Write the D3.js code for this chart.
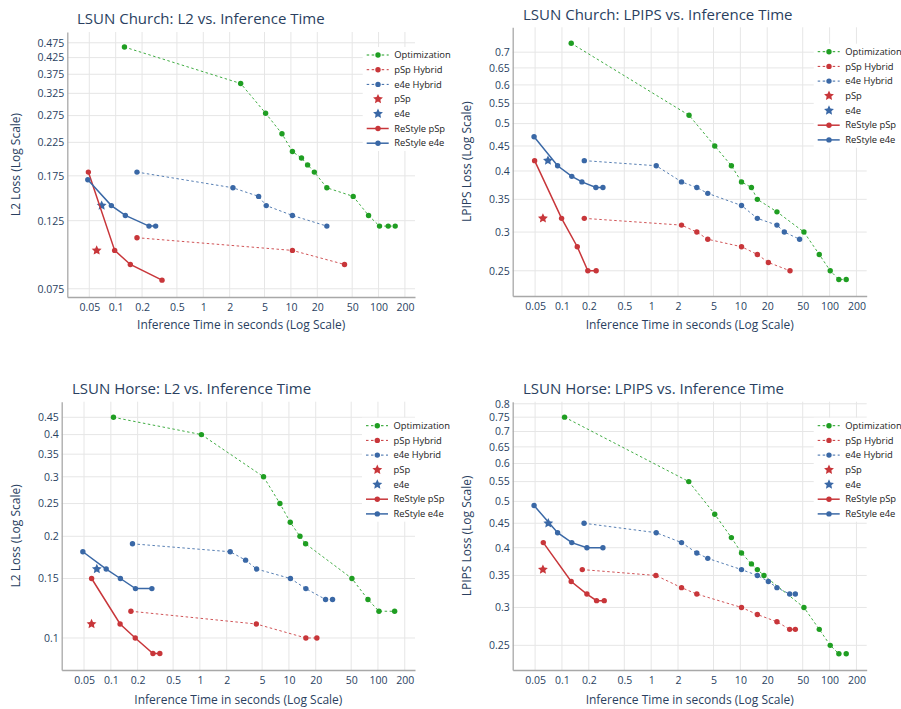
<!DOCTYPE html>
<html>
<head>
<meta charset="utf-8">
<script src="https://cdn.jsdelivr.net/npm/d3@7"></script>
<style>
  body { margin: 0; background: #fff; }
  text { font-family: "Open Sans", sans-serif; }
</style>
</head>
<body>
<div id="main"></div>
<script>
// series names, in drawing order
var seriesNames = ["Optimization", "pSp Hybrid", "e4e Hybrid", "pSp", "e4e", "ReStyle pSp", "ReStyle e4e"];

var xTicks = [0.05, 0.1, 0.2, 0.5, 1, 2, 5, 10, 20, 50, 100, 200];
var yTicksChurchL2 = [0.075, 0.125, 0.175, 0.225, 0.275, 0.325, 0.375, 0.425, 0.475];
var yTicksChurchLpips = [0.25, 0.3, 0.35, 0.4, 0.45, 0.5, 0.55, 0.6, 0.65, 0.7];
var yTicksHorseL2 = [0.1, 0.15, 0.2, 0.25, 0.3, 0.35, 0.4, 0.45];
var yTicksHorseLpips = [0.25, 0.3, 0.35, 0.4, 0.45, 0.5, 0.55, 0.6, 0.65, 0.7, 0.75, 0.8];

// LSUN Church, L2  ([seconds, loss])
var churchL2Opt = [[0.126,0.46],[2.67,0.35],[5.14,0.28],[7.9,0.24],[10.4,0.21],[13.2,0.20],[15.5,0.19],[18.5,0.18],[25.7,0.16],[51.4,0.15],[76.9,0.13],[102.6,0.12],[128.9,0.12],[154.9,0.12]];
var churchL2PspHyb = [[0.175,0.11],[10.4,0.10],[40.9,0.09]];
var churchL2E4eHyb = [[0.175,0.18],[2.18,0.16],[4.28,0.15],[5.23,0.14],[10.4,0.13],[25.7,0.12]];
var churchL2Psp = [[0.0607,0.10]];
var churchL2E4e = [[0.0692,0.14]];
var churchL2ResPsp = [[0.0488,0.18],[0.0974,0.10],[0.147,0.09],[0.338,0.08]];
var churchL2ResE4e = [[0.0481,0.17],[0.0893,0.14],[0.129,0.13],[0.240,0.12],[0.286,0.12]];

// LSUN Church, LPIPS
var churchLpOpt = [[0.127,0.73],[2.66,0.52],[5.16,0.45],[7.93,0.41],[10.3,0.38],[13.3,0.37],[15.5,0.35],[25.7,0.33],[51.6,0.30],[76.6,0.27],[101.7,0.25],[127,0.24],[153.6,0.24]];
var churchLpPspHyb = [[0.178,0.32],[2.19,0.31],[3.25,0.30],[4.31,0.29],[10.3,0.28],[15.5,0.27],[20.6,0.26],[36,0.25]];
var churchLpE4eHyb = [[0.178,0.42],[1.14,0.41],[2.19,0.38],[3.25,0.37],[4.31,0.36],[10.3,0.34],[15.5,0.32],[25.7,0.31],[31.1,0.30],[46.1,0.29]];
var churchLpPsp = [[0.0612,0.32]];
var churchLpE4e = [[0.0697,0.42]];
var churchLpResPsp = [[0.0494,0.42],[0.0991,0.32],[0.1485,0.28],[0.195,0.25],[0.242,0.25]];
var churchLpResE4e = [[0.0487,0.47],[0.0894,0.41],[0.129,0.39],[0.1675,0.38],[0.240,0.37],[0.288,0.37]];

// LSUN Horse, L2
var horseL2Opt = [[0.107,0.45],[1.04,0.40],[5.19,0.30],[7.92,0.25],[10.35,0.22],[13.3,0.20],[15.4,0.19],[51,0.15],[77.2,0.13],[102.6,0.12],[153.9,0.12]];
var horseL2PspHyb = [[0.168,0.12],[4.3,0.11],[15.5,0.10],[20.6,0.10]];
var horseL2E4eHyb = [[0.175,0.19],[2.19,0.18],[3.26,0.17],[4.33,0.16],[10.4,0.15],[15.5,0.14],[25.8,0.13],[30.9,0.13]];
var horseL2Psp = [[0.0607,0.11]];
var horseL2E4e = [[0.0696,0.16]];
var horseL2ResPsp = [[0.0608,0.15],[0.127,0.11],[0.188,0.10],[0.297,0.09],[0.355,0.09]];
var horseL2ResE4e = [[0.0485,0.18],[0.0887,0.16],[0.128,0.15],[0.189,0.14],[0.289,0.14]];

// LSUN Horse, LPIPS
var horseLpOpt = [[0.107,0.75],[2.64,0.55],[5.16,0.47],[7.93,0.42],[10.3,0.39],[13.3,0.37],[15.5,0.36],[18.4,0.35],[51.6,0.30],[76.6,0.27],[101.7,0.25],[127,0.24],[153.6,0.24]];
var horseLpPspHyb = [[0.169,0.36],[1.13,0.35],[2.19,0.33],[3.25,0.32],[10.3,0.30],[15.5,0.29],[25.7,0.28],[35.7,0.27],[41.3,0.27]];
var horseLpE4eHyb = [[0.177,0.45],[1.14,0.43],[2.19,0.41],[3.25,0.39],[4.31,0.38],[10.3,0.36],[15.5,0.35],[20.6,0.34],[25.7,0.33],[35.7,0.32],[41.3,0.32]];
var horseLpPsp = [[0.0612,0.36]];
var horseLpE4e = [[0.0703,0.45]];
var horseLpResPsp = [[0.0618,0.41],[0.127,0.34],[0.1905,0.32],[0.2444,0.31],[0.298,0.31]];
var horseLpResE4e = [[0.0487,0.49],[0.0894,0.43],[0.129,0.41],[0.1905,0.40],[0.288,0.40]];

var green = "#1f9e22", red = "#c8363a", blue = "#3a68a6";
var styles = [
  { color: green, kind: "dot" },
  { color: red,   kind: "dot" },
  { color: blue,  kind: "dot" },
  { color: red,   kind: "star" },
  { color: blue,  kind: "star" },
  { color: red,   kind: "solid" },
  { color: blue,  kind: "solid" }
];

var panels = [
  { title: "LSUN Church: L2 vs. Inference Time", yLabel: "L2 Loss (Log Scale)",
    series: [churchL2Opt, churchL2PspHyb, churchL2E4eHyb, churchL2Psp, churchL2E4e, churchL2ResPsp, churchL2ResE4e],
    yTicks: yTicksChurchL2, yDomain: [0.0705, 0.515],
    box: { l: 67.3, r: 415, t: 32, b: 297 }, titleX: 77, titleY: 19, yTitleX: 16, xTitleY: 325,
    legend: { x: 366.7, y: 55 } },
  { title: "LSUN Church: LPIPS vs. Inference Time", yLabel: "LPIPS Loss (Log Scale)",
    series: [churchLpOpt, churchLpPspHyb, churchLpE4eHyb, churchLpPsp, churchLpE4e, churchLpResPsp, churchLpResE4e],
    yTicks: yTicksChurchLpips, yDomain: [0.222, 0.787],
    box: { l: 512.7, r: 866.7, t: 27.3, b: 296 }, titleX: 523, titleY: 15, yTitleX: 467, xTitleY: 325,
    legend: { x: 817.7, y: 51.7 } },
  { title: "LSUN Horse: L2 vs. Inference Time", yLabel: "L2 Loss (Log Scale)",
    series: [horseL2Opt, horseL2PspHyb, horseL2E4eHyb, horseL2Psp, horseL2E4e, horseL2ResPsp, horseL2ResE4e],
    yTicks: yTicksHorseL2, yDomain: [0.0804, 0.5005],
    box: { l: 61.7, r: 415, t: 401.7, b: 670 }, titleX: 72, titleY: 389, yTitleX: 16, xTitleY: 700,
    legend: { x: 366, y: 425.7 } },
  { title: "LSUN Horse: LPIPS vs. Inference Time", yLabel: "LPIPS Loss (Log Scale)",
    series: [horseLpOpt, horseLpPspHyb, horseLpE4eHyb, horseLpPsp, horseLpE4e, horseLpResPsp, horseLpResE4e],
    yTicks: yTicksHorseLpips, yDomain: [0.222, 0.808],
    box: { l: 512.7, r: 866.7, t: 401.7, b: 670 }, titleX: 523, titleY: 389, yTitleX: 467, xTitleY: 700,
    legend: { x: 817.7, y: 425.7 } }
];

var textColor = "#2a3f5f";
var svg = d3.select("#main").append("svg")
    .attr("width", 901)
    .attr("height", 709);

// plotly-like star: fatter than d3.symbolStar
var fatStar = {
  draw: function(context, size) {
    var R = Math.sqrt(size), r = R * 0.48;
    for (var i = 0; i < 10; i++) {
      var a = -Math.PI / 2 + i * Math.PI / 5, rad = i % 2 ? r : R;
      if (i === 0) context.moveTo(rad * Math.cos(a), rad * Math.sin(a));
      else context.lineTo(rad * Math.cos(a), rad * Math.sin(a));
    }
    context.closePath();
  }
};
var starPath = d3.symbol().type(fatStar).size(27);

function tickText(v) {
  return String(v);
}

function drawPanel(p) {
  var b = p.box;
  var x = d3.scaleLog().domain([Math.pow(10, -1.552), Math.pow(10, 2.416)]).range([b.l, b.r]);
  var y = d3.scaleLog().domain(p.yDomain).range([b.b, b.t]);
  var g = svg.append("g");

  // grid
  g.append("g").selectAll("line").data(xTicks).enter().append("line")
      .attr("x1", function(d) { return x(d); }).attr("x2", function(d) { return x(d); })
      .attr("y1", b.t).attr("y2", b.b)
      .attr("stroke", "#e6e6e6").attr("stroke-width", 1);
  g.append("g").selectAll("line").data(p.yTicks).enter().append("line")
      .attr("x1", b.l).attr("x2", b.r)
      .attr("y1", function(d) { return y(d); }).attr("y2", function(d) { return y(d); })
      .attr("stroke", "#e6e6e6").attr("stroke-width", 1);

  // axes (no tick marks, labels only)
  var xAxis = g.append("g").attr("transform", "translate(0," + b.b + ")")
      .call(d3.axisBottom(x).tickValues(xTicks).tickFormat(tickText).tickSize(0).tickPadding(7));
  var yAxis = g.append("g").attr("transform", "translate(" + b.l + ",0)")
      .call(d3.axisLeft(y).tickValues(p.yTicks).tickFormat(tickText).tickSize(0).tickPadding(3));
  [xAxis, yAxis].forEach(function(a) {
    a.select(".domain").attr("stroke", "#a8a8a8").attr("stroke-width", 1.3);
    a.selectAll("text").attr("fill", textColor).attr("font-size", 10.5)
        .attr("font-family", "Open Sans");
  });

  var line = d3.line().x(function(d) { return x(d[0]); }).y(function(d) { return y(d[1]); });

  p.series.forEach(function(data, i) {
    var st = styles[i];
    var sg = g.append("g");
    if (st.kind === "star") {
      sg.selectAll("path").data(data).enter().append("path")
          .attr("transform", function(d) { return "translate(" + x(d[0]) + "," + y(d[1]) + ")"; })
          .attr("d", starPath)
          .attr("fill", st.color);
      return;
    }
    sg.append("path").datum(data)
        .attr("d", line)
        .attr("fill", "none")
        .attr("stroke", st.color)
        .attr("stroke-width", st.kind === "solid" ? 1.5 : 1)
        .attr("stroke-dasharray", st.kind === "dot" ? "2.5,2.5" : null)
        .attr("stroke-opacity", st.kind === "dot" ? 0.85 : 1);
    sg.selectAll("circle").data(data).enter().append("circle")
        .attr("cx", function(d) { return x(d[0]); })
        .attr("cy", function(d) { return y(d[1]); })
        .attr("r", 2.7)
        .attr("fill", st.color);
  });

  // legend
  var lg = g.append("g").attr("transform", "translate(" + p.legend.x + "," + p.legend.y + ")");
  lg.append("rect").attr("x", -4).attr("y", -8).attr("width", 86).attr("height", 104).attr("fill", "#fff");
  seriesNames.forEach(function(name, i) {
    var st = styles[i];
    var row = lg.append("g").attr("transform", "translate(0," + (i * 14.7) + ")");
    if (st.kind === "star") {
      row.append("path").attr("transform", "translate(11.3,0)")
          .attr("d", starPath).attr("fill", st.color);
    } else {
      row.append("line").attr("x1", 0).attr("x2", 22).attr("y1", 0).attr("y2", 0)
          .attr("stroke", st.color)
          .attr("stroke-width", st.kind === "solid" ? 1.5 : 1)
          .attr("stroke-dasharray", st.kind === "dot" ? "2.5,2.5" : null);
      row.append("circle").attr("cx", 11.3).attr("cy", 0).attr("r", 2.7).attr("fill", st.color);
    }
    row.append("text").attr("x", 27.5).attr("y", 0).attr("dy", "0.35em")
        .attr("font-family", "Liberation Sans, Arial, sans-serif")
        .attr("font-size", 9.4).attr("fill", "#222").text(name);
  });

  // titles
  svg.append("text").attr("x", p.titleX).attr("y", p.titleY).attr("dy", "0.35em")
      .attr("font-size", 15).attr("fill", textColor).text(p.title);
  svg.append("text").attr("x", (b.l + b.r) / 2).attr("y", p.xTitleY).attr("dy", "0.35em")
      .attr("text-anchor", "middle").attr("font-size", 12).attr("fill", textColor)
      .text("Inference Time in seconds (Log Scale)");
  svg.append("text")
      .attr("transform", "translate(" + p.yTitleX + "," + ((b.t + b.b) / 2) + ") rotate(-90)")
      .attr("dy", "0.35em").attr("text-anchor", "middle").attr("font-size", 12).attr("fill", textColor)
      .text(p.yLabel);
}

panels.forEach(drawPanel);
</script>
</body>
</html>
